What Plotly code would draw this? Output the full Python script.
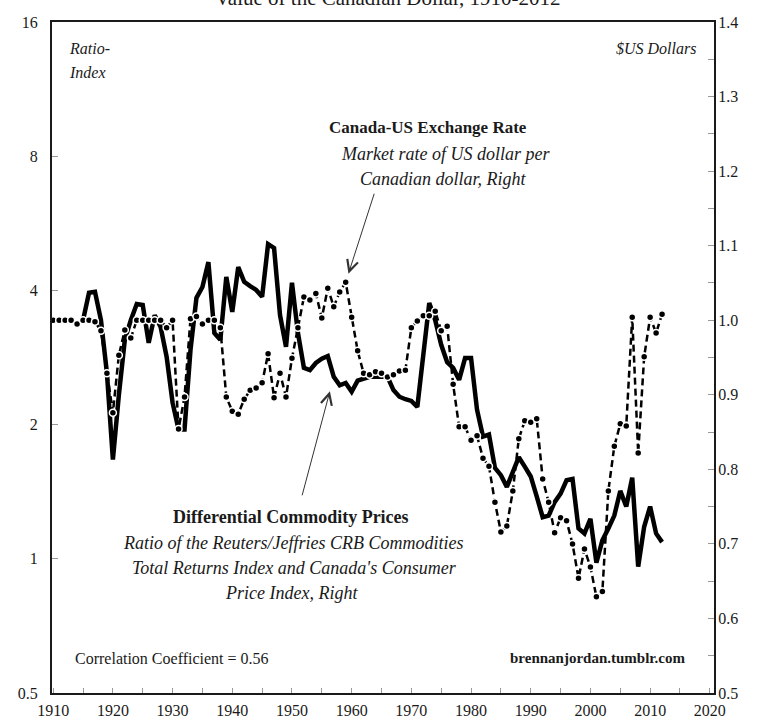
import plotly.graph_objects as go
import math

# ---------------- data ----------------
years_fx = list(range(1910, 2013))
exchange_rate = [
    1.00, 1.00, 1.00, 1.00, 0.995, 1.00, 1.00, 0.998, 0.986, 0.929,   # 1910s
    0.876, 0.953, 0.987, 0.976, 1.00, 1.00, 1.00, 1.00, 1.00, 0.99,   # 1920s
    1.00, 0.854, 0.897, 1.002, 1.005, 0.995, 1.00, 1.00, 0.99, 0.897, # 1930s
    0.878, 0.874, 0.894, 0.906, 0.909, 0.916, 0.955, 0.896, 0.929, 0.897,  # 1940s
    0.949, 0.99, 1.031, 1.027, 1.036, 1.003, 1.043, 1.018, 1.038, 1.051,   # 1950s
    1.004, 0.959, 0.929, 0.927, 0.931, 0.929, 0.924, 0.927, 0.932, 0.933,  # 1960s
    0.99, 0.999, 1.006, 1.006, 1.012, 0.986, 0.992, 0.914, 0.857, 0.857,   # 1970s
    0.839, 0.845, 0.815, 0.804, 0.756, 0.716, 0.724, 0.771, 0.841, 0.865,  # 1980s
    0.863, 0.868, 0.787, 0.756, 0.715, 0.735, 0.731, 0.700, 0.654, 0.693,  # 1990s
    0.669, 0.629, 0.636, 0.771, 0.831, 0.861, 0.858, 1.004, 0.822, 0.951,  # 2000s
    1.004, 0.983, 1.008,                                                   # 2010-2012
]

years_cp = list(range(1915, 2013))
commodity_ratio = [
    3.43, 3.95, 3.97, 3.43, 2.61,                                      # 1915-1919
    1.67, 2.33, 3.10, 3.43, 3.73, 3.71, 3.05, 3.52, 3.31, 2.84,        # 1920s
    2.24, 1.95, 1.95, 2.94, 3.85, 4.07, 4.63, 3.21, 3.10, 4.29,        # 1930s
    3.58, 4.51, 4.18, 4.09, 4.01, 3.87, 5.08, 4.98, 3.52, 2.99,        # 1940s
    4.16, 3.21, 2.68, 2.65, 2.75, 2.81, 2.85, 2.56, 2.45, 2.48,        # 1950s
    2.37, 2.51, 2.54, 2.56, 2.56, 2.56, 2.56, 2.39, 2.31, 2.28,        # 1960s
    2.26, 2.19, 2.87, 3.75, 3.43, 3.02, 2.76, 2.68, 2.52, 2.82,        # 1970s
    2.82, 2.16, 1.88, 1.90, 1.60, 1.54, 1.45, 1.57, 1.69, 1.61,        # 1980s
    1.53, 1.38, 1.24, 1.25, 1.34, 1.40, 1.50, 1.51, 1.17, 1.14,        # 1990s
    1.23, 0.98, 1.10, 1.17, 1.25, 1.42, 1.31, 1.52, 0.96, 1.18,        # 2000s
    1.31, 1.14, 1.09,                                                  # 2010-2012
]

left_ticks = [0.5, 1, 2, 4, 8, 16]
left_tick_text = ["0.5", "1", "2", "4", "8", "16"]

# ---------------- layout helpers ----------------
W, H = 757, 725
L, R, T, B = 52, 714, 22, 693


def px(xp):
    return (xp - L) / (R - L)


def py(yp):
    return (B - yp) / (B - T)


SERIF = "Liberation Serif, Times New Roman, serif"
INK = "#1a1a1a"

fig = go.Figure()

fig.add_trace(go.Scatter(
    x=years_cp, y=commodity_ratio, mode="lines",
    line=dict(color="black", width=4.5),
    yaxis="y", showlegend=False, hoverinfo="skip",
))
fig.add_trace(go.Scatter(
    x=years_fx, y=exchange_rate, mode="lines+markers",
    line=dict(color="black", width=2.5, dash="7px,4px"),
    marker=dict(symbol="circle", size=7, color="black",
                line=dict(color="white", width=1.5)),
    yaxis="y2", showlegend=False, hoverinfo="skip",
))

axis_font = dict(family=SERIF, size=16, color=INK)

fig.update_layout(
    width=W, height=H,
    margin=dict(l=L, r=W - R, t=T, b=H - B, pad=0, autoexpand=False),
    paper_bgcolor="white", plot_bgcolor="white",
    xaxis=dict(
        range=[1909.8, 2020.7], tick0=1910, dtick=10,
        ticks="inside", ticklen=5, tickcolor="#999", tickwidth=1,
        minor=dict(dtick=5, tick0=1910, ticks="inside", ticklen=5,
                   tickcolor="#999", tickwidth=1),
        showline=True, linecolor=INK, linewidth=2, mirror=True,
        showgrid=False, zeroline=False, automargin=False,
        tickfont=axis_font, ticklabelstandoff=2,
    ),
    yaxis=dict(
        type="log", range=[math.log10(0.5), math.log10(16)],
        tickvals=left_ticks, ticktext=left_tick_text,
        ticks="inside", ticklen=6, tickcolor="#999", tickwidth=1,
        showline=True, linecolor=INK, linewidth=2, mirror=True,
        showgrid=False, zeroline=False, automargin=False,
        tickfont=axis_font, ticklabelstandoff=9,
    ),
    yaxis2=dict(
        overlaying="y", side="right", range=[0.5, 1.4],
        tick0=0.5, dtick=0.1, tickformat=".1f",
        ticks="inside", ticklen=6, tickcolor="#999", tickwidth=1,
        minor=dict(dtick=0.05, ticks="inside", ticklen=6,
                   tickcolor="#999", tickwidth=1),
        showline=True, linecolor=INK, linewidth=2,
        showgrid=False, zeroline=False, automargin=False,
        tickfont=axis_font, ticklabelstandoff=-1,
    ),
)

annotations = []


def txt(text, xp, yp, size, anchor="center", italic=False, bold=False):
    t = text
    if bold:
        t = "<b>" + t + "</b>"
    if italic:
        t = "<i>" + t + "</i>"
    annotations.append(dict(
        text=t, xref="paper", yref="paper", x=px(xp), y=py(yp),
        xanchor=anchor, yanchor="middle", showarrow=False,
        font=dict(family=SERIF, size=size, color=INK),
    ))


# title (cut off at top as in the original)
txt("Value of the Canadian Dollar, 1910-2012", 388, -2, 21)
txt("Ratio-", 67, 48, 16, anchor="left", italic=True)
txt("Index", 67, 73, 16, anchor="left", italic=True)
txt("$US Dollars", 698, 48, 16, anchor="right", italic=True)

txt("Canada-US Exchange Rate", 428, 128, 17, bold=True)
txt("Market rate of US dollar per", 445, 154, 18, italic=True)
txt("Canadian dollar, Right", 444, 179, 18, italic=True)

txt("Differential Commodity Prices", 291, 517, 18, bold=True)
txt("Ratio of the Reuters/Jeffries CRB Commodities", 293, 543, 18, italic=True)
txt("Total Returns Index and Canada's Consumer", 294, 568, 18, italic=True)
txt("Price Index, Right", 291, 593, 18, italic=True)

txt("Correlation Coefficient = 0.56", 73, 658, 16, anchor="left")
txt("brennanjordan.tumblr.com", 688, 658, 15, anchor="right", bold=True)

# arrows
annotations.append(dict(
    x=1959, y=1.051, xref="x", yref="y2", text="", showarrow=True,
    ax=29, ay=-90, arrowhead=5, arrowsize=2.2, arrowwidth=1,
    arrowcolor="#333", standoff=9,
))
annotations.append(dict(
    x=1957, y=math.log10(2.56), xref="x", yref="y", text="", showarrow=True,
    ax=-32, ay=120, arrowhead=5, arrowsize=2.2, arrowwidth=1,
    arrowcolor="#333", standoff=15,
))

fig.update_layout(annotations=annotations)

fig.write_html(
    "out.html",
    config={"displayModeBar": False},
    post_script="document.body.style.margin='0';document.body.style.padding='0';",
)
